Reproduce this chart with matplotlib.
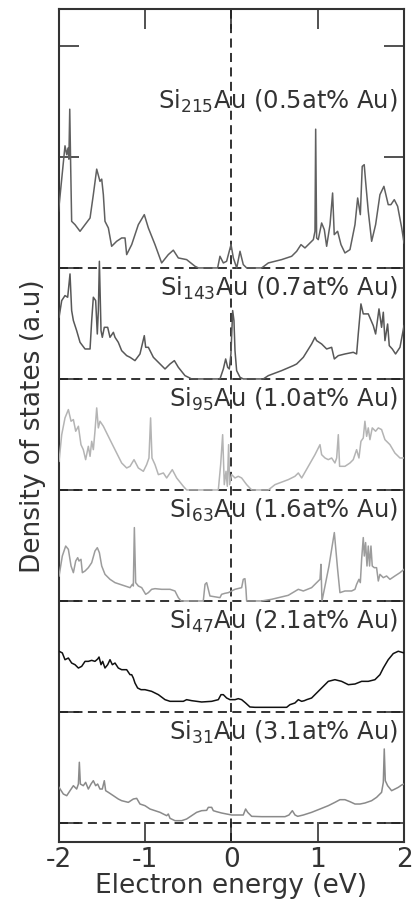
import numpy as np
import matplotlib
matplotlib.use("Agg")
import matplotlib.pyplot as plt

# (energy eV, DOS a.u.), baseline at 0
si215 = [(-2.0, 0.51), (-1.925, 1.10), (-1.905, 1.02), (-1.89, 1.08), (-1.88, 0.98),
         (-1.87, 1.43), (-1.86, 0.95), (-1.848, 0.42), (-1.809, 0.39), (-1.751, 0.33),
         (-1.693, 0.39), (-1.635, 0.45), (-1.597, 0.66), (-1.558, 0.89), (-1.520, 0.78),
         (-1.500, 0.80), (-1.481, 0.66), (-1.462, 0.42), (-1.423, 0.36), (-1.385, 0.195),
         (-1.327, 0.24), (-1.269, 0.27), (-1.230, 0.27), (-1.211, 0.12), (-1.153, 0.21),
         (-1.076, 0.39), (-1.007, 0.48), (-0.960, 0.36), (-0.883, 0.21), (-0.806, 0.045),
         (-0.729, 0.12), (-0.671, 0.16), (-0.613, 0.09), (-0.517, 0.075), (-0.420, 0.015),
         (-0.381, 0.0), (-0.158, 0.0), (-0.131, 0.105), (-0.092, 0.045), (-0.054, 0.06),
         (-0.003, 0.21), (0.024, 0.09), (0.063, 0.0), (0.101, 0.15), (0.139, 0.03),
         (0.178, 0.0), (0.352, 0.0), (0.429, 0.045), (0.583, 0.075), (0.699, 0.105),
         (0.757, 0.15), (0.807, 0.21), (0.853, 0.18), (0.950, 0.255), (0.969, 0.33),
         (0.977, 1.25), (0.988, 0.27), (1.007, 0.255), (1.046, 0.405), (1.077, 0.345),
         (1.104, 0.195), (1.143, 0.39), (1.173, 0.675), (1.192, 0.30), (1.231, 0.33),
         (1.270, 0.21), (1.316, 0.135), (1.374, 0.165), (1.432, 0.39), (1.463, 0.63),
         (1.494, 0.48), (1.516, 0.915), (1.539, 0.93), (1.555, 0.78), (1.586, 0.51),
         (1.625, 0.24), (1.671, 0.39), (1.721, 0.66), (1.767, 0.735), (1.817, 0.57),
         (1.848, 0.57), (1.887, 0.615), (1.926, 0.555), (1.973, 0.36), (2.0, 0.225)]

si143 = [(-1.994, 0.556), (-1.963, 0.706), (-1.925, 0.751), (-1.894, 0.736), (-1.867, 0.946),
         (-1.848, 0.616), (-1.828, 0.526), (-1.790, 0.435), (-1.751, 0.330), (-1.693, 0.270),
         (-1.635, 0.270), (-1.616, 0.526), (-1.597, 0.736), (-1.570, 0.706), (-1.551, 0.405),
         (-1.539, 0.616), (-1.527, 1.06), (-1.508, 0.435), (-1.493, 0.375), (-1.470, 0.465),
         (-1.431, 0.465), (-1.404, 0.375), (-1.365, 0.420), (-1.346, 0.375), (-1.308, 0.330),
         (-1.269, 0.255), (-1.211, 0.210), (-1.172, 0.195), (-1.115, 0.165), (-1.057, 0.225),
         (-1.007, 0.390), (-0.991, 0.285), (-0.960, 0.285), (-0.902, 0.195), (-0.825, 0.135),
         (-0.767, 0.090), (-0.709, 0.135), (-0.659, 0.165), (-0.613, 0.105), (-0.536, 0.030),
         (-0.459, 0.0), (-0.131, 0.0), (-0.092, 0.090), (-0.065, 0.180), (-0.042, 0.105),
         (-0.023, 0.090), (-0.004, 0.225), (0.016, 0.616), (0.031, 0.526), (0.043, 0.255),
         (0.062, 0.075), (0.101, 0.015), (0.139, 0.0), (0.371, 0.0), (0.429, 0.030),
         (0.583, 0.075), (0.718, 0.120), (0.757, 0.135), (0.834, 0.195), (0.930, 0.315),
         (0.969, 0.375), (0.988, 0.345), (1.046, 0.315), (1.104, 0.270), (1.162, 0.285),
         (1.193, 0.180), (1.239, 0.210), (1.316, 0.225), (1.412, 0.240), (1.451, 0.225),
         (1.470, 0.405), (1.501, 0.676), (1.528, 0.586), (1.586, 0.586), (1.644, 0.480),
         (1.671, 0.405), (1.710, 0.631), (1.740, 0.465), (1.760, 0.601), (1.779, 0.345),
         (1.810, 0.495), (1.829, 0.300), (1.864, 0.270), (1.902, 0.225), (1.953, 0.285),
         (2.0, 0.480)]

si95 = [(-1.994, 0.258), (-1.963, 0.498), (-1.925, 0.649), (-1.886, 0.724), (-1.855, 0.619),
        (-1.828, 0.634), (-1.801, 0.529), (-1.770, 0.574), (-1.740, 0.408), (-1.713, 0.363),
        (-1.686, 0.273), (-1.655, 0.393), (-1.635, 0.303), (-1.616, 0.438), (-1.597, 0.363),
        (-1.578, 0.529), (-1.558, 0.739), (-1.539, 0.559), (-1.520, 0.619), (-1.481, 0.574),
        (-1.443, 0.514), (-1.385, 0.423), (-1.327, 0.333), (-1.269, 0.243), (-1.211, 0.198),
        (-1.172, 0.213), (-1.126, 0.273), (-1.076, 0.198), (-1.018, 0.168), (-0.980, 0.228),
        (-0.953, 0.288), (-0.934, 0.649), (-0.918, 0.288), (-0.883, 0.228), (-0.844, 0.138),
        (-0.786, 0.153), (-0.748, 0.108), (-0.683, 0.183), (-0.632, 0.108), (-0.555, 0.033),
        (-0.517, 0.0), (-0.150, 0.0), (-0.123, 0.228), (-0.100, 0.498), (-0.081, 0.048),
        (-0.061, 0.168), (-0.046, 0.033), (-0.031, 0.408), (-0.019, 0.048), (0.004, 0.138),
        (0.043, 0.108), (0.081, 0.123), (0.120, 0.108), (0.178, 0.048), (0.236, 0.0),
        (0.429, 0.0), (0.506, 0.048), (0.660, 0.093), (0.737, 0.123), (0.776, 0.153),
        (0.815, 0.108), (0.892, 0.213), (0.969, 0.318), (1.027, 0.408), (1.046, 0.318),
        (1.085, 0.288), (1.123, 0.273), (1.162, 0.288), (1.200, 0.243), (1.220, 0.288),
        (1.239, 0.498), (1.254, 0.213), (1.316, 0.213), (1.374, 0.243), (1.412, 0.273),
        (1.451, 0.363), (1.478, 0.288), (1.501, 0.438), (1.528, 0.468), (1.547, 0.619),
        (1.567, 0.483), (1.586, 0.559), (1.605, 0.453), (1.632, 0.559), (1.671, 0.529),
        (1.702, 0.559), (1.740, 0.544), (1.779, 0.453), (1.837, 0.408), (1.894, 0.333),
        (1.953, 0.288), (2.0, 0.288)]

si63 = [(-1.994, 0.225), (-1.956, 0.405), (-1.917, 0.495), (-1.886, 0.465), (-1.855, 0.315),
        (-1.828, 0.255), (-1.801, 0.360), (-1.778, 0.390), (-1.763, 0.360), (-1.740, 0.375),
        (-1.724, 0.255), (-1.693, 0.270), (-1.655, 0.300), (-1.616, 0.345), (-1.578, 0.450),
        (-1.551, 0.480), (-1.527, 0.435), (-1.500, 0.315), (-1.462, 0.240), (-1.404, 0.195),
        (-1.346, 0.165), (-1.288, 0.150), (-1.230, 0.135), (-1.172, 0.120), (-1.145, 0.150),
        (-1.134, 0.135), (-1.122, 0.661), (-1.107, 0.165), (-1.076, 0.135), (-1.037, 0.120),
        (-0.991, 0.060), (-0.960, 0.075), (-0.922, 0.105), (-0.883, 0.111), (-0.806, 0.105),
        (-0.709, 0.105), (-0.652, 0.090), (-0.613, 0.030), (-0.582, 0.0), (-0.324, 0.0),
        (-0.304, 0.150), (-0.285, 0.165), (-0.266, 0.105), (-0.247, 0.045), (-0.131, 0.030),
        (-0.112, 0.060), (-0.073, 0.069), (-0.034, 0.075), (0.004, 0.090), (0.043, 0.105),
        (0.120, 0.120), (0.139, 0.195), (0.158, 0.201), (0.170, 0.105), (0.178, 0.0),
        (0.352, 0.0), (0.467, 0.015), (0.660, 0.051), (0.776, 0.105), (0.834, 0.090),
        (0.930, 0.120), (1.027, 0.195), (1.038, 0.330), (1.050, 0.0), (1.085, 0.135),
        (1.131, 0.315), (1.193, 0.616), (1.231, 0.285), (1.258, 0.075), (1.316, 0.090),
        (1.393, 0.090), (1.432, 0.105), (1.451, 0.150), (1.478, 0.195), (1.494, 0.165),
        (1.509, 0.375), (1.528, 0.571), (1.540, 0.405), (1.555, 0.526), (1.571, 0.315),
        (1.586, 0.495), (1.601, 0.315), (1.617, 0.495), (1.632, 0.315), (1.655, 0.300),
        (1.682, 0.300), (1.702, 0.180), (1.721, 0.240), (1.760, 0.210), (1.798, 0.225),
        (1.837, 0.195), (1.894, 0.225), (1.953, 0.255), (2.0, 0.285)]

si47 = [(-1.994, 0.547), (-1.956, 0.532), (-1.925, 0.471), (-1.886, 0.486), (-1.848, 0.441),
        (-1.809, 0.426), (-1.770, 0.396), (-1.732, 0.411), (-1.693, 0.456), (-1.655, 0.456),
        (-1.616, 0.465), (-1.578, 0.456), (-1.547, 0.477), (-1.531, 0.495), (-1.508, 0.426),
        (-1.489, 0.456), (-1.462, 0.396), (-1.431, 0.426), (-1.404, 0.471), (-1.377, 0.426),
        (-1.346, 0.441), (-1.308, 0.396), (-1.269, 0.381), (-1.211, 0.381), (-1.172, 0.336),
        (-1.153, 0.336), (-1.134, 0.306), (-1.115, 0.261), (-1.084, 0.216), (-1.045, 0.201),
        (-0.999, 0.201), (-0.922, 0.186), (-0.844, 0.156), (-0.767, 0.111), (-0.709, 0.096),
        (-0.632, 0.096), (-0.555, 0.096), (-0.517, 0.111), (-0.459, 0.102), (-0.343, 0.090),
        (-0.227, 0.096), (-0.150, 0.111), (-0.119, 0.156), (-0.092, 0.156), (-0.054, 0.126),
        (-0.015, 0.111), (0.043, 0.111), (0.081, 0.120), (0.120, 0.111), (0.166, 0.081),
        (0.216, 0.045), (0.274, 0.042), (0.467, 0.042), (0.641, 0.042), (0.679, 0.066),
        (0.737, 0.081), (0.776, 0.111), (0.815, 0.096), (0.846, 0.102), (0.873, 0.111),
        (0.930, 0.126), (0.988, 0.171), (1.046, 0.216), (1.123, 0.276), (1.200, 0.291),
        (1.277, 0.276), (1.355, 0.246), (1.432, 0.252), (1.509, 0.276), (1.586, 0.276),
        (1.663, 0.291), (1.721, 0.336), (1.760, 0.396), (1.817, 0.471), (1.875, 0.526),
        (1.933, 0.547), (2.0, 0.532)]

si31 = [(-1.994, 0.321), (-1.944, 0.261), (-1.905, 0.246), (-1.867, 0.291), (-1.828, 0.336),
        (-1.790, 0.306), (-1.770, 0.351), (-1.759, 0.547), (-1.747, 0.351), (-1.713, 0.336),
        (-1.686, 0.366), (-1.655, 0.306), (-1.624, 0.351), (-1.597, 0.381), (-1.570, 0.336),
        (-1.547, 0.351), (-1.520, 0.306), (-1.493, 0.306), (-1.470, 0.381), (-1.454, 0.291),
        (-1.423, 0.276), (-1.365, 0.246), (-1.308, 0.216), (-1.269, 0.201), (-1.192, 0.186),
        (-1.134, 0.216), (-1.095, 0.222), (-1.057, 0.171), (-0.999, 0.156), (-0.941, 0.126),
        (-0.883, 0.111), (-0.825, 0.096), (-0.787, 0.081), (-0.748, 0.066), (-0.729, 0.081),
        (-0.709, 0.042), (-0.652, 0.021), (-0.574, 0.021), (-0.517, 0.036), (-0.459, 0.066),
        (-0.401, 0.096), (-0.343, 0.111), (-0.285, 0.114), (-0.266, 0.141), (-0.227, 0.141),
        (-0.208, 0.111), (-0.170, 0.102), (-0.112, 0.090), (-0.054, 0.081), (0.004, 0.072),
        (0.062, 0.072), (0.139, 0.072), (0.166, 0.126), (0.190, 0.096), (0.236, 0.060),
        (0.352, 0.057), (0.506, 0.057), (0.622, 0.057), (0.668, 0.072), (0.707, 0.111),
        (0.738, 0.072), (0.769, 0.060), (0.834, 0.072), (0.930, 0.096), (1.027, 0.126),
        (1.123, 0.156), (1.200, 0.186), (1.258, 0.210), (1.316, 0.210), (1.374, 0.192),
        (1.432, 0.171), (1.490, 0.171), (1.547, 0.180), (1.625, 0.201), (1.682, 0.231),
        (1.740, 0.276), (1.760, 0.366), (1.771, 0.667), (1.783, 0.381), (1.810, 0.336),
        (1.856, 0.291), (1.895, 0.306), (1.933, 0.321), (1.972, 0.342), (2.0, 0.351)]

series = [si215, si143, si95, si63, si47, si31]
labels = ["Si$_{215}$Au (0.5at% Au)", "Si$_{143}$Au (0.7at% Au)", "Si$_{95}$Au (1.0at% Au)",
          "Si$_{63}$Au (1.6at% Au)", "Si$_{47}$Au (2.1at% Au)", "Si$_{31}$Au (3.1at% Au)"]
offsets = [5, 4, 3, 2, 1, 0]

colors = ["#606060", "#585858", "#b4b4b4", "#9c9c9c", "#111111", "#8a8a8a"]
label_dy = [1.44, 0.76, 0.76, 0.76, 0.76, 0.76]
txt = "#333333"

fig = plt.figure(figsize=(4.18, 9.04), dpi=100)
ax = fig.add_axes([0.140, 0.0675, 0.8266, 0.9215])

for data, off, col, lab, dy in zip(series, offsets, colors, labels, label_dy):
    e, d = np.array(data).T
    ax.plot(e, d + off, color=col, lw=1.1, zorder=3)
    ax.axhline(off, color="#222222", lw=1.3, ls=(0, (5, 3)), zorder=2)
    ax.text(1.93, off + dy, lab, ha="right", va="baseline", fontsize=17.5, color=txt)

ax.axvline(0, color="#222222", lw=1.3, ls=(0, (5, 3)), zorder=2)

ax.set_xlim(-2, 2)
ax.set_ylim(-0.171, 7.333)
ax.set_xticks([-2, -1, 0, 1, 2])
ax.set_xticklabels(["-2", "-1", "0", "1", "2"])
ax.set_yticks(range(0, 8))
ax.set_yticklabels([])
ax.tick_params(axis="both", direction="in", length=14.5, width=1.2, color="#333333",
               top=True, right=True, labelsize=19, labelcolor=txt, pad=3)
for s in ax.spines.values():
    s.set_linewidth(1.5)
    s.set_color("#333333")

ax.set_xlabel("Electron energy (eV)", fontsize=19, color=txt, labelpad=0)
ax.set_ylabel("Density of states (a.u)", fontsize=19, color=txt, labelpad=6)

fig.savefig("out.png", dpi=100)
